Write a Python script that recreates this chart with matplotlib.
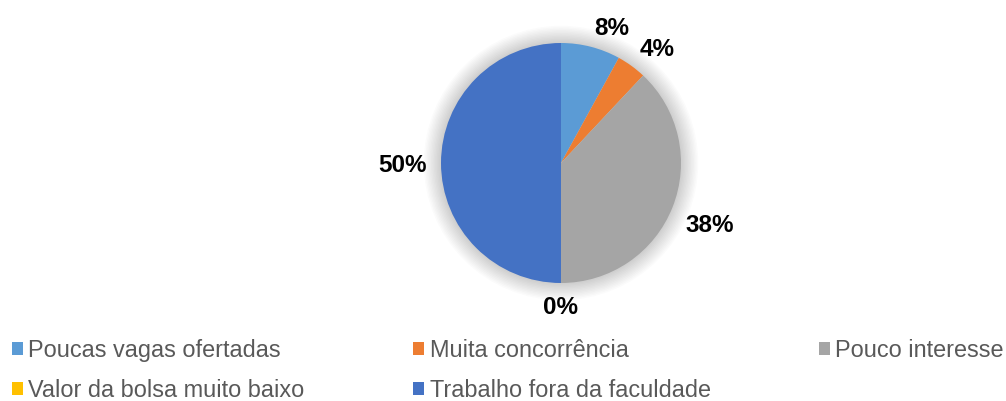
import numpy as np
import matplotlib.pyplot as plt
from matplotlib.patches import Patch, Circle

plt.rcParams['font.family'] = ['Liberation Sans', 'DejaVu Sans']

categories = ["Poucas vagas ofertadas", "Muita concorrência", "Pouco interesse",
              "Valor da bolsa muito baixo", "Trabalho fora da faculdade"]
shares = [8, 4, 38, 0, 50]
colors = ["#5B9BD5", "#ED7D31", "#A5A5A5", "#FFC000", "#4472C4"]

W, H = 1006, 401
fig = plt.figure(figsize=(W / 100, H / 100), dpi=100)

# pie box: centre (561, 163) px, radius 120 px
cx, cy, r = 561, 163, 120
ax = fig.add_axes([(cx - r) / W, (H - cy - r) / H, 2 * r / W, 2 * r / H])

# soft shadow around the pie
for k in range(12):
    ax.add_patch(Circle((0, 0), 1.0 + 0.012 * (k + 1), color="#000000",
                        alpha=0.015, lw=0, zorder=0, clip_on=False))

wedges, _ = ax.pie(shares, colors=colors, startangle=90, counterclock=False,
                   radius=1.0, wedgeprops=dict(linewidth=0))
for w in wedges:
    w.set_zorder(2)

for w, v in zip(wedges, shares):
    mid = np.deg2rad((w.theta1 + w.theta2) / 2)
    x, y = 1.12 * np.cos(mid), 1.08 * np.sin(mid) - 0.025
    ha = "center" if abs(x) < 0.15 else ("left" if x > 0 else "right")
    va = "center" if abs(y) < 0.15 else ("bottom" if y > 0 else "top")
    ax.text(x, y, f"{v:.0f}%", ha=ha, va=va, fontsize=17.5, fontweight="bold",
            color="#000000", clip_on=False)

ax.set_xlim(-1, 1)
ax.set_ylim(-1, 1)
ax.axis("off")

# legend, row-major order like the original
handles = [Patch(facecolor=c, edgecolor="none") for c in colors]
order = [0, 3, 1, 4, 2]
leg = fig.legend([handles[i] for i in order], [categories[i] for i in order],
                 ncol=3, loc="upper left", bbox_to_anchor=(12 / W, 1 - 339 / H),
                 frameon=False, fontsize=16.9, borderpad=0, borderaxespad=0,
                 handlelength=0.45, handleheight=0.45, handletextpad=0.25,
                 columnspacing=4.62, labelspacing=0.72, labelcolor="#595959")

fig.savefig("out.png", dpi=100)
